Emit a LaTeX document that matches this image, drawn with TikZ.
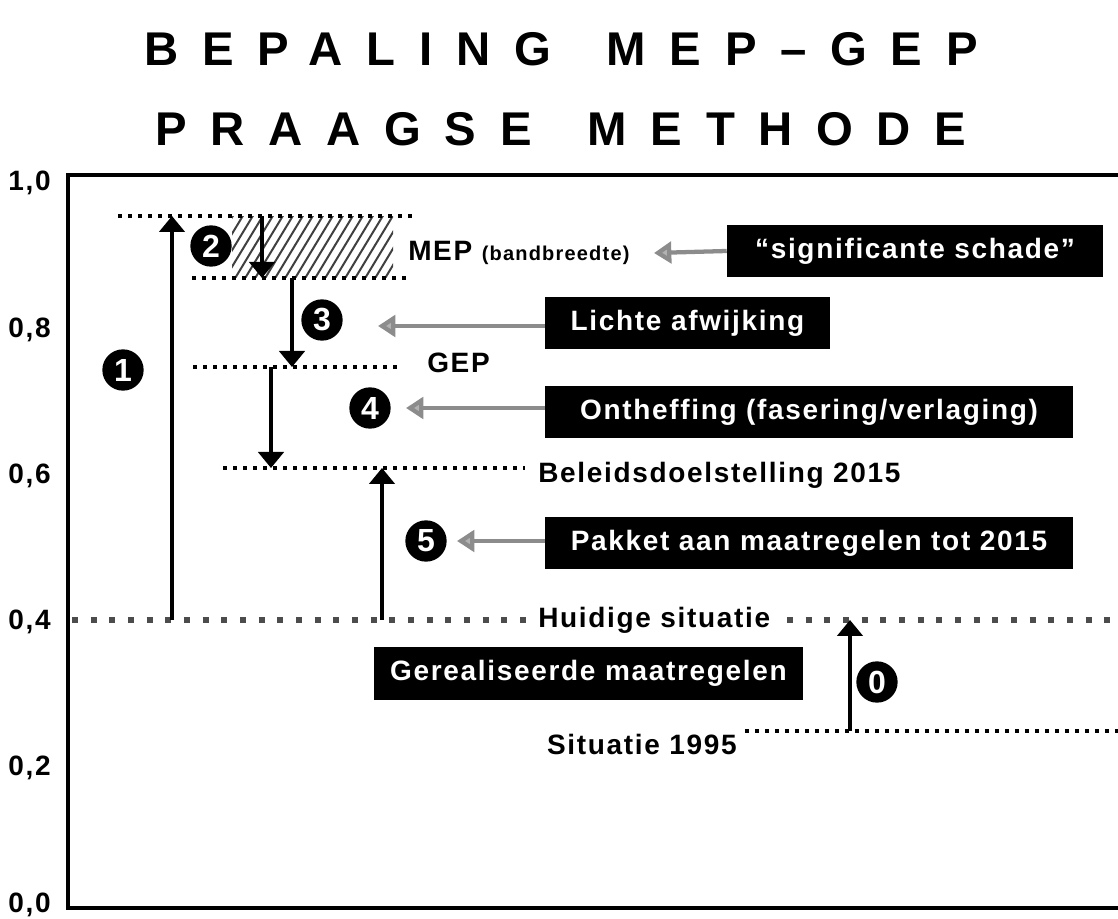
\documentclass[tikz,border=0pt]{standalone}
\usepackage{fontspec}
\setmainfont{Liberation Sans}
\newfontfamily\titlefont[LetterSpace=50]{Liberation Sans}
\newfontfamily\labfont[LetterSpace=6]{Liberation Sans}
\newfontfamily\boxfont[LetterSpace=6]{Liberation Sans}
\usetikzlibrary{arrows.meta}
\tikzset{
  dotline/.style={line width=3pt, dash pattern=on 3pt off 4.5pt, black},
  bigdots/.style={line width=4.5pt, dash pattern=on 4.5pt off 9.5pt, black!70},
  blkarrow/.style={line width=2.7pt, black, -{Triangle[width=19pt,length=12pt]}},
  grayarrow/.style={line width=3.2pt, draw=black!45, -{Triangle[width=16pt,length=13pt,fill=black!30]}},
  numc/.style={circle, fill=black, text=white, inner sep=0pt, minimum size=31pt, font=\bfseries\fontsize{24}{24}\selectfont},
  blackbox/.style={fill=black, text=white, inner sep=0pt, minimum height=39pt, font=\boxfont\bfseries\fontsize{21}{25}\selectfont},
  lab/.style={font=\labfont\bfseries\fontsize{21}{25}\selectfont, inner sep=0pt},
  ylab/.style={font=\labfont\bfseries\fontsize{21}{24}\selectfont, inner sep=0pt, anchor=east},
  hatchline/.style={line width=1.5pt, black!75},
  titletext/.style={font=\titlefont\bfseries\fontsize{35.5}{40}\selectfont, inner sep=0pt},
}
\begin{document}
\begin{tikzpicture}[x=0.75pt,y=-0.75pt]
\useasboundingbox (0,0) rectangle (1118,919);

% title
\node[titletext] (t1) at (561,49) {BEPALING\hspace{42pt}MEP–GEP};
\node[titletext] (t2) at (561,129) {PRAAGSE\hspace{42pt}METHODE};

% axes
\coordinate (o) at (68,908);
\coordinate (top) at (68,175);
\coordinate (topr) at (1118,175);
\coordinate (botr) at (1118,908);
\draw[line width=3.5pt] (topr) -- (top) -- (o) -- (botr);

% y labels
\node[ylab] (y10) at (51,183) {1,0};
\node[ylab] (y08) at (51,330) {0,8};
\node[ylab] (y06) at (51,476) {0,6};
\node[ylab] (y04) at (51,622) {0,4};
\node[ylab] (y02) at (51,768) {0,2};
\node[ylab] (y00) at (51,905) {0,0};

% level coordinates
\coordinate (m1a) at (118,216); \coordinate (m1b) at (413,216);
\coordinate (m2a) at (192,278); \coordinate (m2b) at (410,278);
\coordinate (g1a) at (193,367); \coordinate (g1b) at (398,367);
\coordinate (b1a) at (223,468); \coordinate (b1b) at (525,468);
\coordinate (h1a) at (72,620);  \coordinate (h1b) at (530,620);
\coordinate (h2a) at (787,620); \coordinate (h2b) at (1118,620);
\coordinate (s1a) at (745,731); \coordinate (s1b) at (1118,731);

% hatched band
\begin{scope}
  \clip (232,217) rectangle (393,278);
  \foreach \i in {0,...,24} \draw[hatchline] ({194+\i*10},280) -- ({234+\i*10},214);
\end{scope}

% dotted levels
\draw[dotline] (m1a) -- (m1b);
\draw[dotline] (m2a) -- (m2b);
\draw[dotline] (g1a) -- (g1b);
\draw[dotline] (b1a) -- (b1b);
\draw[bigdots] (h1a) -- (h1b);
\draw[bigdots] (h2a) -- (h2b);
\draw[dotline] (s1a) -- (s1b);

% black arrows
\coordinate (a1s) at (172,620); \coordinate (a1e) at (172,216);
\coordinate (a2s) at (262,216); \coordinate (a2e) at (262,278);
\coordinate (a3s) at (292,278); \coordinate (a3e) at (292,367);
\coordinate (a4s) at (271,367); \coordinate (a4e) at (271,468);
\coordinate (a5s) at (382,620); \coordinate (a5e) at (382,468);
\coordinate (a0s) at (850,731); \coordinate (a0e) at (850,620);
\draw[blkarrow] (a1s) -- (a1e);
\draw[blkarrow] (a2s) -- (a2e);
\draw[blkarrow] (a3s) -- (a3e);
\draw[blkarrow] (a4s) -- (a4e);
\draw[blkarrow] (a5s) -- (a5e);
\draw[blkarrow] (a0s) -- (a0e);

% numbered circles
\node[numc] (n1) at (123,370) {1};
\node[numc] (n2) at (211,246) {2};
\node[numc] (n3) at (322,320) {3};
\node[numc] (n4) at (370,408) {4};
\node[numc] (n5) at (426,541) {5};
\node[numc] (n0) at (877,682) {0};

% labels
\node[lab, anchor=west] (mep) at (408,253) {MEP {\fontsize{15}{17}\selectfont (bandbreedte)}};
\node[lab, anchor=west] (gep) at (427,363) {GEP};
\node[lab, anchor=west] (bel) at (538,475) {Beleidsdoelstelling 2015};
\node[lab, anchor=west] (hui) at (538,620) {Huidige situatie};
\node[lab, anchor=east] (sit) at (737,744) {Situatie 1995};

% black boxes
\node[blackbox, minimum width=282pt] (bx1) at (915,251) {“significante schade”};
\node[blackbox, minimum width=214pt] (bx2) at (687.5,323.5) {Lichte afwijking};
\node[blackbox, minimum width=396pt] (bx3) at (809,412) {Ontheffing (fasering/verlaging)};
\node[blackbox, minimum width=396pt] (bx4) at (809,543.5) {Pakket aan maatregelen tot 2015};
\node[blackbox, minimum width=322pt] (bx5) at (588.5,673.5) {Gerealiseerde maatregelen};

% gray arrows
\coordinate (g1t) at (654,253);
\coordinate (g2t) at (378,326);
\coordinate (g3t) at (406,408);
\coordinate (g4t) at (457,541);
\draw[grayarrow] (bx1.west) -- (g1t);
\draw[grayarrow] (bx2.west |- g2t) -- (g2t);
\draw[grayarrow] (bx3.west |- g3t) -- (g3t);
\draw[grayarrow] (bx4.west |- g4t) -- (g4t);
\end{tikzpicture}
\end{document}
